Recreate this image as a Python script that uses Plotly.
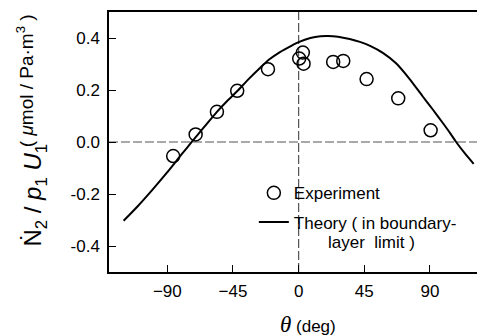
import plotly.graph_objects as go

# Experiment data (theta in deg, N2/p1U1 in umol/Pa.m3)
exp_theta = [-86.0, -70.6, -56.0, -42.1, -21.0, 0.4, 2.9, 3.4, 23.7, 30.6, 46.6, 68.3, 90.5]
exp_value = [-0.054, 0.029, 0.116, 0.197, 0.280, 0.321, 0.344, 0.301, 0.308, 0.312, 0.242, 0.168, 0.045]

# Theory curve (in boundary-layer limit)
th_theta = [-120, -110, -100, -90, -80, -73, -65, -56, -50, -42, -35, -26.5, -20, -12.8, -5, 0,
            8, 15, 20, 27, 35, 42, 49, 58, 67, 76, 85, 92, 99, 104, 108, 114, 120]
th_value = [-0.303, -0.245, -0.182, -0.116, -0.046, 0.002, 0.056, 0.116, 0.152, 0.196, 0.238, 0.285,
            0.318, 0.346, 0.370, 0.384, 0.400, 0.407, 0.408, 0.405, 0.396, 0.385, 0.370, 0.342, 0.302,
            0.243, 0.176, 0.125, 0.072, 0.033, 0.000, -0.044, -0.084]

x_ticks = [-90, -45, 0, 45, 90]
y_ticks = [-0.4, -0.2, 0.0, 0.2, 0.4]
y_tick_text = ["-0.4", "-0.2", "0.0", "0.2", "0.4"]

FONT = "Liberation Sans, Arial, Helvetica, sans-serif"

fig = go.Figure()
fig.add_trace(go.Scatter(
    x=exp_theta, y=exp_value, mode="markers", name="Experiment", legendgroup="a",
    marker=dict(symbol="circle-open", size=13, color="black", line=dict(width=1.5, color="black")),
))
fig.add_trace(go.Scatter(
    x=th_theta, y=th_value, mode="lines", name="Theory ( in boundary-", legendgroup="b",
    line=dict(color="black", width=2, shape="spline", smoothing=0.6),
))

dash_style = dict(color="#555555", width=1.2, dash="9px,3px")
fig.add_shape(type="line", xref="paper", yref="y", x0=0, x1=1, y0=0, y1=0, line=dash_style, layer="below")
fig.add_shape(type="line", xref="x", yref="paper", x0=0, x1=0, y0=0, y1=1, line=dash_style, layer="below")

fig.update_layout(
    width=477, height=336,
    margin=dict(l=109, r=0, t=12, b=64),
    paper_bgcolor="white", plot_bgcolor="white",
    font=dict(family=FONT, size=17, color="black"),
    showlegend=True,
    legend=dict(x=0.3936, y=0.372, xanchor="left", yanchor="top", traceorder="grouped",
                bgcolor="rgba(0,0,0,0)", font=dict(size=17), tracegroupgap=4),
    xaxis=dict(range=[-130, 122.3], tickvals=x_ticks, ticks="inside", ticklen=7, tickwidth=1.3,
               tickcolor="black", showline=True, linecolor="black", linewidth=1.5, mirror=True,
               showgrid=False, zeroline=False, ticklabelstandoff=3),
    yaxis=dict(range=[-0.5, 0.5], tickvals=y_ticks, ticktext=y_tick_text, ticks="inside", ticklen=7,
               tickwidth=1.3, tickcolor="black", showline=True, linecolor="black", linewidth=1.5,
               mirror=False, showgrid=False, zeroline=False, ticklabelstandoff=4),
)

# second line of the theory legend label
fig.add_annotation(
    xref="paper", yref="paper", x=(326 - 109) / 368, y=(272 - 242) / 260, xanchor="left", yanchor="middle",
    showarrow=False, text="layer\u00a0\u00a0limit )", font=dict(size=17, family=FONT),
)

fig.add_annotation(
    xref="paper", yref="paper", x=-0.201, y=0.294, xanchor="center", yanchor="middle",
    textangle=-90, showarrow=False,
    text="Ṅ<sub>2</sub> / <i>p</i><sub>1</sub> <i>U</i><sub>1</sub>",
    font=dict(size=24, family=FONT),
)
fig.add_annotation(
    xref="paper", yref="paper", x=-0.226, y=0.737, xanchor="center", yanchor="middle",
    textangle=-90, showarrow=False,
    text="( <i>μ</i>mol / Pa·m<sup>3</sup> )",
    font=dict(size=19, family=FONT),
)
fig.add_annotation(
    xref="paper", yref="paper", x=0.541, y=-0.2, xanchor="center", yanchor="middle",
    showarrow=False,
    text="<span style='font-family:Liberation Serif;font-size:23px'><i>θ</i></span> (deg)",
    font=dict(size=17, family=FONT),
)

fig.write_html("out.html", config={"displayModeBar": False},
               post_script="document.body.style.margin='0';document.body.style.overflow='hidden';")
